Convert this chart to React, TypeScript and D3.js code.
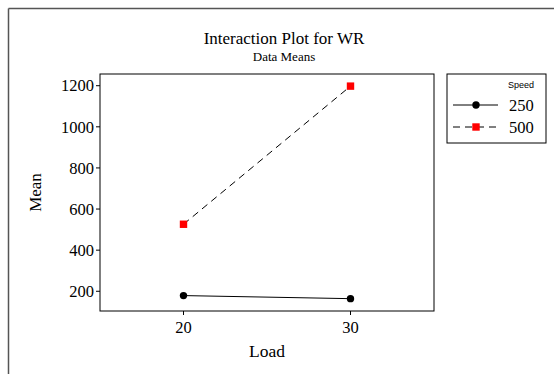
import React from "react";
import * as d3 from "d3";

const loads = [20, 30];
const speeds = ["250", "500"];
const meansSpeed250 = [179, 164];
const meansSpeed500 = [526, 1198];
const yTicks = [200, 400, 600, 800, 1000, 1200];

const W = 554;
const H = 374;
const plot = { left: 100, top: 74, right: 434, bottom: 311 };
const FONT = "'Liberation Serif', 'Times New Roman', serif";

export default function App() {
  const x = d3.scaleLinear().domain([15, 35]).range([plot.left, plot.right]);
  const y = d3.scaleLinear().domain([104, 1257]).range([plot.bottom, plot.top]);

  const line = d3
    .line<[number, number]>()
    .x((d) => x(d[0]))
    .y((d) => y(d[1]));

  const s250 = loads.map((l, i) => [l, meansSpeed250[i]] as [number, number]);
  const s500 = loads.map((l, i) => [l, meansSpeed500[i]] as [number, number]);

  const legX = 447;
  const legY = 74;

  return (
    <svg
      width={W}
      height={H}
      style={{ position: "absolute", left: 0, top: 0, background: "#fff" }}
      fontFamily={FONT}
    >
      {/* outer frame */}
      <line x1={8.5} y1={8.5} x2={W} y2={8.5} stroke="#555" strokeWidth={1.5} />
      <line x1={8.5} y1={8.5} x2={8.5} y2={H} stroke="#555" strokeWidth={1.5} />

      <text x={284} y={44} textAnchor="middle" fontSize={17}>
        Interaction Plot for WR
      </text>
      <text x={284} y={61} textAnchor="middle" fontSize={13}>
        Data Means
      </text>

      {/* plot area */}
      <rect
        x={plot.left}
        y={plot.top}
        width={plot.right - plot.left}
        height={plot.bottom - plot.top}
        fill="none"
        stroke="#000"
        strokeWidth={1}
      />

      {/* y axis */}
      {yTicks.map((t) => (
        <g key={t}>
          <line x1={plot.left - 4} x2={plot.left} y1={y(t)} y2={y(t)} stroke="#000" />
          <text x={plot.left - 6} y={y(t)} dy="0.35em" textAnchor="end" fontSize={16.5}>
            {t}
          </text>
        </g>
      ))}
      <text
        transform={`translate(41,${(plot.top + plot.bottom) / 2}) rotate(-90)`}
        textAnchor="middle"
        fontSize={17}
      >
        Mean
      </text>

      {/* x axis */}
      {loads.map((t) => (
        <g key={t}>
          <line x1={x(t)} x2={x(t)} y1={plot.bottom} y2={plot.bottom + 4} stroke="#000" />
          <text x={x(t)} y={plot.bottom + 22} textAnchor="middle" fontSize={16.5}>
            {t}
          </text>
        </g>
      ))}
      <text x={(plot.left + plot.right) / 2} y={357} textAnchor="middle" fontSize={17.5}>
        Load
      </text>

      {/* series */}
      <path d={line(s250) ?? ""} fill="none" stroke="#000" strokeWidth={1} />
      <path d={line(s500) ?? ""} fill="none" stroke="#000" strokeWidth={1} strokeDasharray="7,5" />
      {s250.map((d, i) => (
        <circle key={i} cx={x(d[0])} cy={y(d[1])} r={3.7} fill="#000" />
      ))}
      {s500.map((d, i) => (
        <rect key={i} x={x(d[0]) - 3.7} y={y(d[1]) - 3.7} width={7.4} height={7.4} fill="#f00" />
      ))}

      {/* legend */}
      <rect x={legX} y={legY} width={99} height={69} fill="none" stroke="#000" />
      <text x={534} y={88} textAnchor="end" fontSize={9} fontFamily="'Liberation Sans', Arial, sans-serif">
        Speed
      </text>
      <line x1={453} x2={498} y1={105} y2={105} stroke="#000" />
      <circle cx={476} cy={105} r={3.7} fill="#000" />
      <text x={509} y={105} dy="0.35em" fontSize={16.5}>
        {speeds[0]}
      </text>
      <line x1={453} x2={498} y1={127} y2={127} stroke="#000" strokeDasharray="7,5" />
      <rect x={472.3} y={123.3} width={7.4} height={7.4} fill="#f00" />
      <text x={509} y={127} dy="0.35em" fontSize={16.5}>
        {speeds[1]}
      </text>
    </svg>
  );
}
